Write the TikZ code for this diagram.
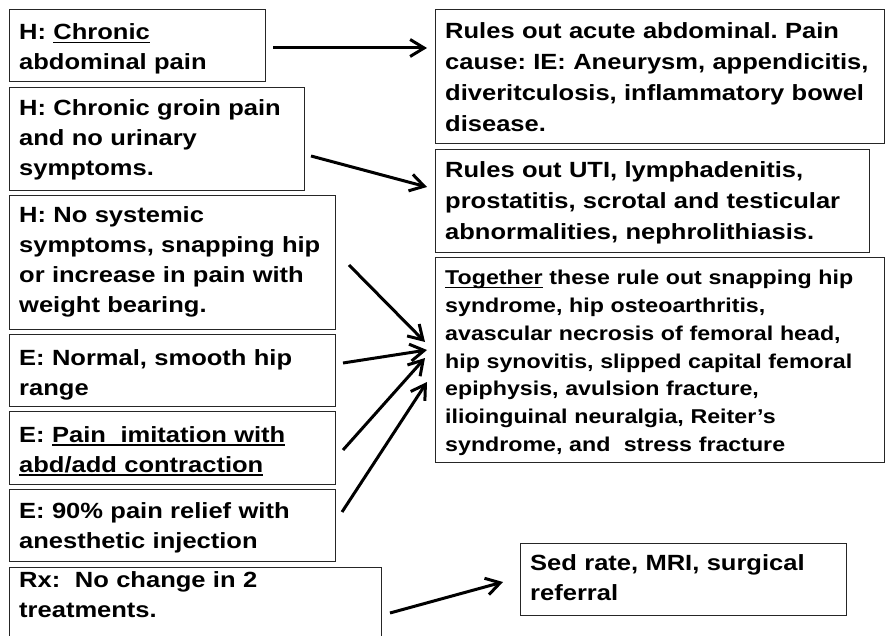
\documentclass[tikz,border=0pt]{standalone}
\usepackage{fontspec}
\newfontfamily\arialfont{Liberation Sans}[FakeStretch=1.16]
\usetikzlibrary{arrows.meta}
\frenchspacing
\newsavebox\ulbox
\newcommand\ulx[1]{\leavevmode\sbox\ulbox{#1}\rlap{\rule[-3.5pt]{\wd\ulbox}{1.6pt}}\usebox\ulbox}
\tikzset{
  box/.style={draw=black!85, line width=1pt, anchor=north west, inner sep=0pt},
  txt/.style={anchor=base west, inner sep=0pt, text width=440pt, align=left,
    font=\arialfont\bfseries\fontsize{22}{30}\selectfont},
  txtb/.style={txt, font=\arialfont\bfseries\fontsize{22}{30.8}\selectfont},
  txts/.style={txt, font=\arialfont\bfseries\fontsize{20}{27.7}\selectfont},
  arr/.style={-{Straight Barb[length=14pt,width=17pt]}, line width=3pt},
}
\begin{document}
\begin{tikzpicture}[x=1pt, y=-1pt]
\useasboundingbox (0,0) rectangle (889,636);
\clip (0,0) rectangle (889,636);
% left boxes
\node[box, minimum width=256pt, minimum height=72pt] (A) at (9,9) {};
\node[box, minimum width=295pt, minimum height=103pt] (B) at (9,87) {};
\node[box, minimum width=326pt, minimum height=134pt] (C) at (9,195) {};
\node[box, minimum width=326pt, minimum height=72pt] (D) at (9,334) {};
\node[box, minimum width=326pt, minimum height=73pt] (E) at (9,411) {};
\node[box, minimum width=326pt, minimum height=72pt] (F) at (9,489) {};
\node[box, minimum width=372pt, minimum height=90pt] (G) at (9,567) {};
% right boxes
\node[box, minimum width=449pt, minimum height=134pt] (R1) at (435,9) {};
\node[box, minimum width=434pt, minimum height=103pt] (R2) at (435,149) {};
\node[box, minimum width=449pt, minimum height=205pt] (R3) at (435,257) {};
\node[box, minimum width=326pt, minimum height=72pt] (R4) at (520,543) {};
% texts
\node[txt] (At) at (19,40) {H: \ulx{Chronic}\\abdominal pain};
\node[txt] (Bt) at (19,116) {H: Chronic groin pain\\and no urinary\\symptoms.};
\node[txt] (Ct) at (19,223) {H: No systemic\\symptoms, snapping hip\\or increase in pain with\\weight bearing.};
\node[txt] (Dt) at (19,365) {E: Normal, smooth hip\\range};
\node[txt] (Et) at (19,442) {E: \ulx{Pain\ \ imitation with}\\\ulx{abd/add contraction}};
\node[txt] (Ft) at (19,518) {E: 90\% pain relief with\\anesthetic injection};
\node[txt] (Gt) at (19,587) {Rx:\ \ No change in 2\\treatments.};
\node[txtb] (R1t) at (445,39) {Rules out acute abdominal. Pain\\cause: IE: Aneurysm, appendicitis,\\diveritculosis, inflammatory bowel\\disease.};
\node[txtb] (R2t) at (445,178) {Rules out UTI, lymphadenitis,\\prostatitis, scrotal and testicular\\abnormalities, nephrolithiasis.};
\node[txts] (R3t) at (445,285) {\ulx{Together} these rule out snapping hip\\syndrome, hip osteoarthritis,\\avascular necrosis of femoral head,\\hip synovitis, slipped capital femoral\\epiphysis, avulsion fracture,\\ilioinguinal neuralgia, Reiter’s\\syndrome, and\ \ stress fracture};
\node[txt] (R4t) at (530,570) {Sed rate, MRI, surgical\\referral};
% arrow ends
\coordinate (s1) at (273,48);  \coordinate (e1) at (427,48);
\coordinate (s2) at (311,156); \coordinate (e2) at (427,187);
\coordinate (s3) at (349,265); \coordinate (e3) at (425,342);
\coordinate (s4) at (343,363); \coordinate (e4) at (427,350);
\coordinate (s5) at (343,450); \coordinate (e5) at (425,358);
\coordinate (s6) at (342,512); \coordinate (e6) at (427,382);
\coordinate (s7) at (390,613); \coordinate (e7) at (503,582);
\draw[arr] (s1) -- (e1);
\draw[arr] (s2) -- (e2);
\draw[arr] (s3) -- (e3);
\draw[arr] (s4) -- (e4);
\draw[arr] (s5) -- (e5);
\draw[arr] (s6) -- (e6);
\draw[arr] (s7) -- (e7);
\end{tikzpicture}
\end{document}
